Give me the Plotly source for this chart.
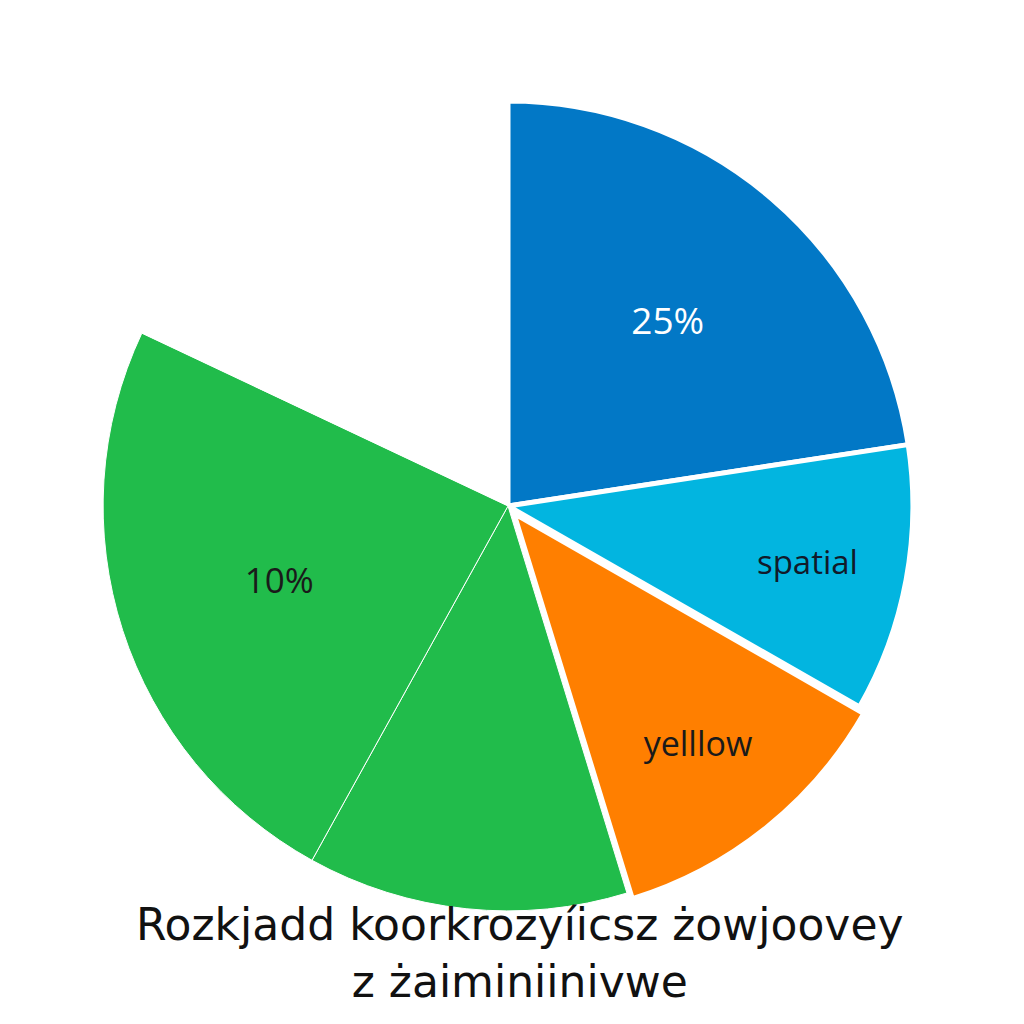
import plotly.graph_objects as go

labels = ["Blue", "Cyan", "Orange", "Green A", "Green B", "Empty"]
values = [22.6, 10.7, 12.0, 12.8, 24.0, 18.0]
texts = ["25%", "spatial", "yelllow", "", "10%", ""]
colors = ["#0278C6", "#02B5E0", "#FF7F00", "#21BC4B", "#21BC4B", "#FFFFFF"]
text_colors = ["#FFFFFF", "#111a2a", "#1a1a1a", "#1a1a1a", "#1a1a1a", "#FFFFFF"]
text_sizes = [37, 33, 34, 33, 35, 30]
line_widths = [5, 5, 6, 1, 1, 0]
pulls = [0, 0, 0.02, 0, 0, 0]
title_text = "Rozkjadd koorkrozyíicsz żowjoovey<br>z żaiminiinivwe"

fig = go.Figure(go.Pie(
    labels=labels,
    values=values,
    text=texts,
    textinfo="text",
    textposition="inside",
    insidetextorientation="horizontal",
    textfont=dict(color=text_colors, size=text_sizes, family="Open Sans"),
    marker=dict(colors=colors, line=dict(color="#FFFFFF", width=line_widths)),
    sort=False,
    direction="clockwise",
    rotation=0,
    pull=pulls,
    showlegend=False,
    hoverinfo="skip",
    domain=dict(x=[85/1024, 915/1024], y=[1 - 911/1024, 1 - 85/1024]),
))

fig.add_annotation(
    text=title_text, x=0.5, xref="paper", xanchor="center",
    y=1 - 945/1024, yref="paper", yanchor="middle",
    showarrow=False,
    font=dict(family="DejaVu Sans", size=44, color="#111111"),
)

fig.update_layout(
    width=1024, height=1024,
    margin=dict(l=0, r=0, t=0, b=0),
    paper_bgcolor="white",
    plot_bgcolor="white",
)

fig.write_html("out.html")
